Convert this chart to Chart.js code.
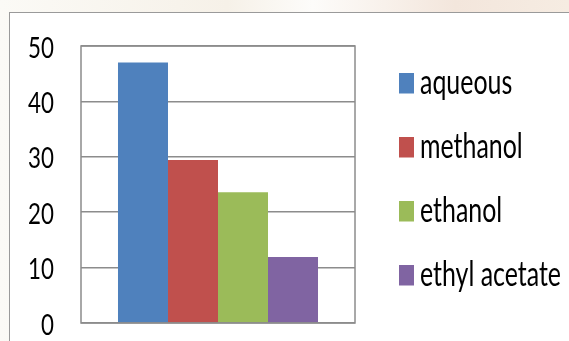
<!DOCTYPE html>
<html>
<head>
<meta charset="utf-8">
<script src="https://cdn.jsdelivr.net/npm/chart.js@4"></script>
<style>
  html, body { margin: 0; padding: 0; }
  body { width: 569px; height: 341px; position: relative; overflow: hidden;
    background: linear-gradient(90deg, #fbfaf6 0%, #f6f1e8 40%, #fdfcfa 55%, #f3e6dc 80%, #f6ece2 100%); }
  #frame { position: absolute; left: 9px; top: 12px; width: 570px; height: 340px;
    background: #ffffff; border-left: 1.5px solid #9a9a9a; border-top: 1.5px solid #9a9a9a; }
  #wrap { position: absolute; left: 0; top: 0; width: 569px; height: 341px; }
</style>
</head>
<body>
<div id="frame"></div>
<div id="wrap"><canvas id="c" width="569" height="341"></canvas></div>
<script>
const categories = [''];
const seriesNames = ['aqueous', 'methanol', 'ethanol', 'ethyl acetate'];
const aqueous = [47];
const methanol = [29.4];
const ethanol = [23.6];
const ethylAcetate = [11.9];
const yTicks = [0, 10, 20, 30, 40, 50];

const colors = ['#4f81bd', '#c0504d', '#9bbb59', '#8064a2'];
const seriesValues = [aqueous, methanol, ethanol, ethylAcetate];
const FONT = "Lato, 'Open Sans', sans-serif";

// draw condensed, tall text (Calibri-like, vertically stretched) by horizontal scaling
function narrowText(ctx, text, x, y, sx, align) {
  ctx.save();
  ctx.translate(x, y);
  ctx.scale(sx, 1);
  ctx.textAlign = align;
  ctx.fillText(text, 0, 0);
  ctx.restore();
}

const framePlugin = {
  id: 'frame',
  afterDatasetsDraw(chart) {
    const {ctx, chartArea: a} = chart;
    ctx.save();
    ctx.strokeStyle = '#8c8c8c';
    ctx.lineWidth = 1.5;
    ctx.strokeRect(a.left, a.top, a.right - a.left, a.bottom - a.top);
    ctx.restore();
  }
};

const tickLabelPlugin = {
  id: 'tickLabels',
  afterDraw(chart) {
    const {ctx} = chart;
    const y = chart.scales.y;
    ctx.save();
    ctx.font = "29px " + FONT;
    ctx.fillStyle = '#000000';
    ctx.textBaseline = 'alphabetic';
    y.ticks.forEach(t => {
      narrowText(ctx, String(t.value), 54, y.getPixelForValue(t.value) + 11.5, 0.77, 'right');
    });
    ctx.restore();
  }
};

const legendPlugin = {
  id: 'sideLegend',
  afterDraw(chart) {
    const {ctx} = chart;
    ctx.save();
    ctx.font = "35px " + FONT;
    ctx.textBaseline = 'alphabetic';
    chart.data.datasets.forEach((ds, i) => {
      const cy = 83 + 64 * i;
      ctx.fillStyle = ds.backgroundColor;
      ctx.fillRect(399, cy - 10, 15, 20.5);
      ctx.fillStyle = '#000000';
      narrowText(ctx, ds.label, 420, cy + 11, 0.712, 'left');
    });
    ctx.restore();
  }
};

new Chart(document.getElementById('c'), {
  type: 'bar',
  data: {
    labels: categories,
    datasets: seriesNames.map((name, i) => ({
      label: name,
      data: seriesValues[i],
      backgroundColor: colors[i],
      borderWidth: 0,
      categoryPercentage: 0.73,
      barPercentage: 1.0
    }))
  },
  options: {
    responsive: false,
    animation: false,
    devicePixelRatio: 1,
    layout: { padding: { left: 0, right: 214, top: 46, bottom: 18 } },
    plugins: { legend: { display: false }, tooltip: { enabled: false } },
    scales: {
      x: { display: false },
      y: {
        min: 0, max: 50,
        afterBuildTicks(scale) { scale.ticks = yTicks.map(v => ({ value: v })); },
        afterFit(scale) { scale.width = 81; scale.paddingTop = 0; scale.paddingBottom = 0; },
        ticks: { display: false },
        grid: { color: '#8c8c8c', lineWidth: 1.5, drawTicks: false },
        border: { display: false }
      }
    }
  },
  plugins: [framePlugin, tickLabelPlugin, legendPlugin]
});
</script>
</body>
</html>
